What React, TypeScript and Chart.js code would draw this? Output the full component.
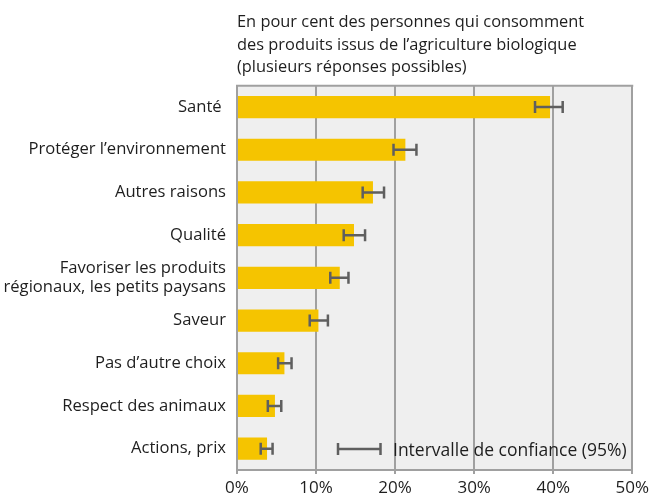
import { useEffect, useRef } from 'react';
import { Chart, registerables } from 'chart.js';

Chart.register(...registerables);

const categories: (string | string[])[] = [
  'Santé ',
  'Protéger l’environnement',
  'Autres raisons',
  'Qualité',
  ['Favoriser les produits', 'régionaux, les petits paysans'],
  'Saveur',
  'Pas d’autre choix',
  'Respect des animaux',
  'Actions, prix',
];
const values = [39.6, 21.3, 17.2, 14.8, 13.0, 10.3, 6.0, 4.8, 3.8];
const errLow = [37.7, 19.8, 15.9, 13.5, 11.8, 9.2, 5.2, 3.9, 3.0];
const errHigh = [41.2, 22.7, 18.6, 16.2, 14.1, 11.5, 6.9, 5.6, 4.5];
const xTicks = [0, 10, 20, 30, 40, 50];
const titleLines = [
  'En pour cent des personnes qui consomment',
  'des produits issus de l’agriculture biologique',
  '(plusieurs réponses possibles)',
];
const legendText = 'Intervalle de confiance (95%)';

const FONT = '"Open Sans"';
const BAR = '#f5c400';
const GRID = '#a0a0a0';
const BG = '#efefef';
const ERR = '#5f5f5f';
const TEXT = '#1e1e1e';

const customPlugin = {
  id: 'custom',
  beforeDraw(chart: any) {
    const { ctx, chartArea: a } = chart;
    ctx.save();
    ctx.fillStyle = BG;
    ctx.fillRect(a.left, a.top, a.right - a.left, a.bottom - a.top);
    ctx.restore();
  },
  afterDatasetsDraw(chart: any) {
    const { ctx, chartArea: a } = chart;
    const xs = chart.scales.x;
    const meta = chart.getDatasetMeta(0);
    ctx.save();
    ctx.strokeStyle = ERR;
    ctx.lineWidth = 2.5;
    meta.data.forEach((bar: any, i: number) => {
      const y = bar.y;
      const x1 = xs.getPixelForValue(errLow[i]);
      const x2 = xs.getPixelForValue(errHigh[i]);
      ctx.beginPath();
      ctx.moveTo(x1, y);
      ctx.lineTo(x2, y);
      ctx.moveTo(x1, y - 6);
      ctx.lineTo(x1, y + 6);
      ctx.moveTo(x2, y - 6);
      ctx.lineTo(x2, y + 6);
      ctx.stroke();
    });
    // top border
    ctx.strokeStyle = GRID;
    ctx.lineWidth = 2;
    ctx.beginPath();
    ctx.moveTo(a.left - 1, a.top);
    ctx.lineTo(a.right + 1, a.top);
    ctx.stroke();
    // legend
    const ly = a.bottom - 21;
    const lx1 = a.left + 101;
    const lx2 = a.left + 143.5;
    ctx.strokeStyle = ERR;
    ctx.lineWidth = 2.5;
    ctx.beginPath();
    ctx.moveTo(lx1, ly);
    ctx.lineTo(lx2, ly);
    ctx.moveTo(lx1, ly - 6);
    ctx.lineTo(lx1, ly + 6);
    ctx.moveTo(lx2, ly - 6);
    ctx.lineTo(lx2, ly + 6);
    ctx.stroke();
    ctx.fillStyle = TEXT;
    ctx.textBaseline = 'alphabetic';
    ctx.textAlign = 'left';
    ctx.font = `17.5px ${FONT}`;
    ctx.fillText(legendText, a.left + 156, a.bottom - 14);
    // title
    ctx.font = `16.4px ${FONT}`;
    const baselines = [27, 50, 72];
    titleLines.forEach((t, i) => ctx.fillText(t, a.left, baselines[i]));
    ctx.restore();
  },
};

export default function App() {
  const ref = useRef<HTMLCanvasElement>(null);
  useEffect(() => {
    const chart = new Chart(ref.current as HTMLCanvasElement, {
      type: 'bar',
      data: {
        labels: categories as any,
        datasets: [
          {
            data: values,
            backgroundColor: BAR,
            barPercentage: 0.52,
            categoryPercentage: 1,
          },
        ],
      },
      options: {
        indexAxis: 'y',
        animation: false,
        responsive: false,
        maintainAspectRatio: false,
        layout: { padding: { top: 85.7, right: 19.5, left: 0, bottom: 0 } },
        plugins: {
          legend: { display: false },
          tooltip: { enabled: false },
          title: { display: false },
        },
        scales: {
          x: {
            min: 0,
            max: 50,
            afterBuildTicks: (s: any) => {
              s.ticks = xTicks.map((v) => ({ value: v }));
            },
            ticks: {
              callback: (v: any) => v + '%',
              font: { family: FONT, size: 17 },
              color: TEXT,
              padding: 4,
              maxRotation: 0,
            },
            grid: { color: GRID, lineWidth: 2, tickLength: 4, drawTicks: true },
            border: { display: true, color: GRID, width: 2 },
            afterFit: (s: any) => {
              s.height = 30;
            },
          },
          y: {
            ticks: {
              font: { family: FONT, size: 16.6, lineHeight: 1.12 },
              color: TEXT,
              padding: 11,
              autoSkip: false,
            },
            grid: { display: false, drawTicks: false },
            border: { display: false },
            afterFit: (s: any) => {
              s.width = 237;
            },
          },
        },
      } as any,
      plugins: [customPlugin],
    });
    return () => chart.destroy();
  }, []);
  return (
    <div style={{ position: 'fixed', left: 0, top: 0, width: 653, height: 500, background: '#fff' }}>
      <canvas ref={ref} width={653} height={500} style={{ display: 'block', width: 653, height: 500 }} />
    </div>
  );
}
